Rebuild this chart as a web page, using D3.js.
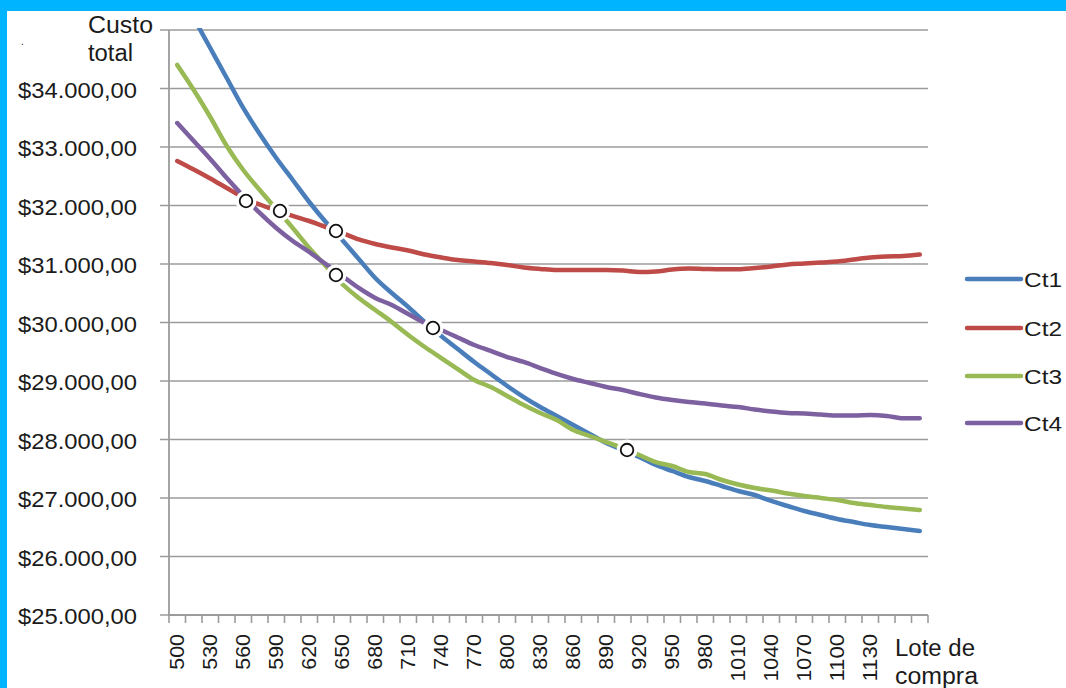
<!DOCTYPE html>
<html>
<head>
<meta charset="utf-8">
<script src="https://cdn.jsdelivr.net/npm/d3@7"></script>
<style>
  html, body { margin: 0; padding: 0; background: #ffffff; }
  svg { display: block; }
  text { font-family: "Liberation Sans", Arial, sans-serif; fill: #1b1b1b; }
</style>
</head>
<body>
<script>
// ---------- DATA ----------
const lots = d3.range(46).map(i => 500 + 15 * i); // 500 .. 1175 (category axis)
const tickLabels = ["500","530","560","590","620","650","680","710","740","770","800","830","860","890","920","950","980","1010","1040","1070","1100","1130"];
const seriesNames = ["Ct1", "Ct2", "Ct3", "Ct4"];
const seriesColors = ["#4A7EBB", "#BE4B48", "#98B954", "#7D60A0"];

const ct1 = [35735,35205,34692,34179,33667,33222,32812,32436,32060,31718,31410,31085,30761,30504,30265,30009,29769,29547,29325,29120,28915,28726,28556,28402,28248,28094,27940,27821,27701,27564,27462,27359,27291,27205,27120,27051,26949,26863,26778,26709,26641,26590,26538,26504,26470,26436];
const ct2 = [32761,32615,32462,32299,32137,32017,31914,31821,31735,31632,31530,31419,31342,31282,31231,31162,31111,31068,31043,31017,30983,30940,30915,30897,30897,30897,30897,30889,30863,30872,30906,30923,30915,30910,30910,30932,30957,30991,31008,31026,31043,31077,31111,31128,31137,31162];
const ct3 = [34402,33974,33513,33017,32607,32265,31940,31615,31274,30966,30658,30419,30214,30009,29786,29581,29393,29205,29017,28897,28744,28590,28453,28333,28162,28060,27957,27855,27735,27615,27547,27444,27410,27308,27231,27171,27128,27077,27034,27000,26966,26915,26880,26846,26821,26795];
const ct4 = [33410,33103,32795,32470,32162,31872,31615,31393,31205,31000,30795,30590,30419,30299,30145,29991,29872,29744,29615,29513,29410,29325,29222,29120,29034,28966,28897,28846,28778,28718,28675,28641,28615,28581,28556,28513,28479,28453,28444,28427,28410,28410,28419,28402,28362,28362];

const yTicks = [25000,26000,27000,28000,29000,30000,31000,32000,33000,34000];
const yMax = 35000;

// intersection markers: [lot, value]
const intersectLots = [562.5, 593.4, 644.3, 644.3, 732.5, 908.9];
const intersectValues = [32077, 31906, 31564, 30812, 29906, 27820];

// ---------- LAYOUT ----------
const W = 1066, H = 688;
const plot = { left: 169, right: 928, top: 30, bottom: 615 };

const svg = d3.select("body").append("svg").attr("width", W).attr("height", H);

// frame (cyan bands)
svg.append("rect").attr("x", 0).attr("y", 0).attr("width", W).attr("height", H).attr("fill", "#ffffff");
svg.append("rect").attr("x", 0).attr("y", 0).attr("width", W).attr("height", 11).attr("fill", "#00B4FF");
svg.append("rect").attr("x", 0).attr("y", 0).attr("width", 7).attr("height", H).attr("fill", "#00B4FF");

const x = d3.scaleBand().domain(lots).range([plot.left, plot.right]).padding(0);
const bw = x.bandwidth();
const xc = d => x(d) + bw / 2;
const xLin = d3.scaleLinear().domain([lots[0], lots[lots.length - 1]]).range([xc(lots[0]), xc(lots[lots.length - 1])]);
const y = d3.scaleLinear().domain([25000, yMax]).range([plot.bottom, plot.top]);

const gridColor = "#9b9b9b";

// gridlines (with left tick stubs)
svg.append("g").selectAll("line").data(yTicks.concat([yMax])).join("line")
  .attr("x1", plot.left - 9).attr("x2", plot.right)
  .attr("y1", d => y(d)).attr("y2", d => y(d))
  .attr("stroke", gridColor).attr("stroke-width", 1.6);

// y axis line
svg.append("line").attr("x1", plot.left).attr("x2", plot.left)
  .attr("y1", plot.top).attr("y2", plot.bottom + 1)
  .attr("stroke", gridColor).attr("stroke-width", 1.8);

// x axis line
svg.append("line").attr("x1", plot.left).attr("x2", plot.right)
  .attr("y1", plot.bottom).attr("y2", plot.bottom)
  .attr("stroke", gridColor).attr("stroke-width", 1.8);

// x tick marks at category boundaries
const bounds = lots.map(d => x(d)).concat([plot.right]);
svg.append("g").selectAll("line").data(bounds).join("line")
  .attr("x1", d => d).attr("x2", d => d)
  .attr("y1", plot.bottom).attr("y2", plot.bottom + 8)
  .attr("stroke", gridColor).attr("stroke-width", 1.6);

// y labels
const fmt = v => "$" + d3.format(",")(v).replace(/,/g, ".") + ",00";
svg.append("g").selectAll("text").data(yTicks).join("text")
  .attr("x", 137).attr("y", d => y(d) + 9)
  .attr("text-anchor", "end")
  .attr("font-size", 22)
  .attr("textLength", 119).attr("lengthAdjust", "spacingAndGlyphs")
  .text(d => fmt(d));

// x labels (rotated)
svg.append("g").selectAll("text").data(tickLabels).join("text")
  .attr("transform", d => `translate(${xc(+d) + 7},634) rotate(-90)`)
  .attr("text-anchor", "end")
  .attr("font-size", 20)
  .attr("textLength", d => d.length * 11.9).attr("lengthAdjust", "spacingAndGlyphs")
  .text(d => d);

// axis titles
svg.append("text").attr("x", 88).attr("y", 33).attr("font-size", 23)
  .attr("textLength", 65).attr("lengthAdjust", "spacingAndGlyphs").text("Custo");
svg.append("text").attr("x", 88).attr("y", 61).attr("font-size", 23)
  .attr("textLength", 45).attr("lengthAdjust", "spacingAndGlyphs").text("total");
svg.append("text").attr("x", 895).attr("y", 656).attr("font-size", 23)
  .attr("textLength", 80).attr("lengthAdjust", "spacingAndGlyphs").text("Lote de");
svg.append("text").attr("x", 895).attr("y", 684).attr("font-size", 23)
  .attr("textLength", 83).attr("lengthAdjust", "spacingAndGlyphs").text("compra");
svg.append("text").attr("x", 21).attr("y", 45).attr("font-size", 10).attr("fill", "#555").text(".");

// clip
svg.append("clipPath").attr("id", "clip").append("rect")
  .attr("x", plot.left).attr("y", plot.top - 2)
  .attr("width", plot.right - plot.left).attr("height", plot.bottom - plot.top + 2);

const allSeries = [ct1, ct2, ct3, ct4];
const line = d3.line().x((d, i) => xc(lots[i])).y(d => y(d)).curve(d3.curveMonotoneX);

svg.append("g").attr("clip-path", "url(#clip)").selectAll("path").data(allSeries).join("path")
  .attr("d", d => line(d))
  .attr("fill", "none")
  .attr("stroke", (d, i) => seriesColors[i])
  .attr("stroke-width", 4.5)
  .attr("stroke-linejoin", "round").attr("stroke-linecap", "round");

// intersection markers
const pts = intersectLots.map((l, i) => [l, intersectValues[i]]);
svg.append("g").selectAll("circle").data(pts).join("circle")
  .attr("cx", d => xLin(d[0])).attr("cy", d => y(d[1])).attr("r", 10.5)
  .attr("fill", "#ffffff");
svg.append("g").selectAll("circle").data(pts).join("circle")
  .attr("cx", d => xLin(d[0])).attr("cy", d => y(d[1])).attr("r", 6.3)
  .attr("fill", "#ffffff").attr("stroke", "#111").attr("stroke-width", 1.8);

// legend
const legY = [279, 328, 376, 423];
const leg = svg.append("g").selectAll("g").data(seriesNames).join("g")
  .attr("transform", (d, i) => `translate(0,${legY[i]})`);
leg.append("line").attr("x1", 967).attr("x2", 1021).attr("y1", 0).attr("y2", 0)
  .attr("stroke", (d, i) => seriesColors[i]).attr("stroke-width", 4.5).attr("stroke-linecap", "round");
leg.append("text").attr("x", 1024).attr("y", 8).attr("font-size", 21)
  .attr("textLength", 38).attr("lengthAdjust", "spacingAndGlyphs").text(d => d);
</script>
</body>
</html>
